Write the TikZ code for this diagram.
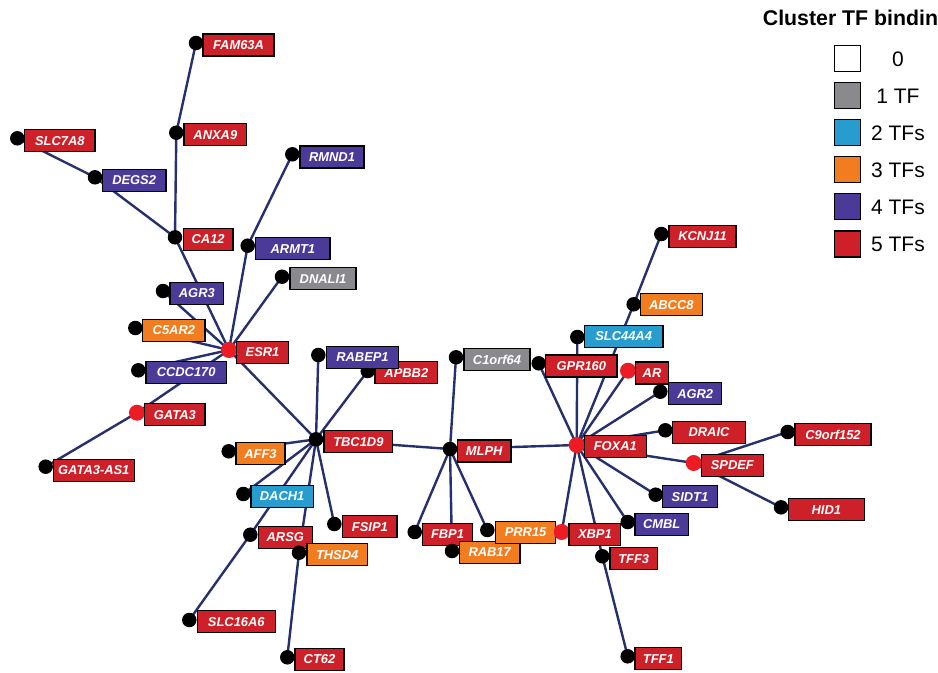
\documentclass[tikz,border=0pt]{standalone}
\usepackage{fontspec}
\setmainfont{Liberation Sans}
\pgfdeclarelayer{back}
\pgfdeclarelayer{bg}
\pgfsetlayers{back,bg,main}
\definecolor{cred}{RGB}{205,32,41}
\definecolor{cpurple}{RGB}{75,58,152}
\definecolor{corange}{RGB}{242,125,32}
\definecolor{cblue}{RGB}{38,157,206}
\definecolor{cgrey}{RGB}{137,137,142}
\definecolor{cdotred}{RGB}{237,28,36}
\definecolor{cedge}{RGB}{38,48,110}
\tikzset{
 dotb/.style={circle,fill=black,inner sep=0,minimum size=14.5bp},
 dotr/.style={circle,fill=cdotred,inner sep=0,minimum size=16bp},
 genebox/.style={draw=black,line width=1.3bp,text=white,inner sep=0,minimum height=22bp,
   font=\fontsize{12.9bp}{14bp}\selectfont\bfseries\itshape},
 edge/.style={draw=cedge,line width=2.4bp},
 legbox/.style={draw=black,line width=1.4bp,minimum width=26bp,minimum height=26bp,inner sep=0},
 legtext/.style={font=\fontsize{21bp}{24bp}\selectfont,inner sep=0,anchor=base},
}
\newcommand\gn[9]{%
 \node[#5] (d#1) at (#3,#4) {};
 \node[genebox,fill=#9,minimum width={(#7-#6)*1bp}] (b#1) at ({(#6+#7)/2},#8) {#2};
}
\begin{document}
\begin{tikzpicture}[x=1bp,y=-1bp]
\useasboundingbox (0,0) rectangle (938,673);
\begin{pgfonlayer}{back}
\fill[white] (0,0) rectangle (938,673);
\end{pgfonlayer}
% genes: id, label, dot x, dot y, dot style, box x1, box x2, box yc, colour
\gn{FAMsixA}{FAM63A}{196}{43}{dotb}{203}{274}{45}{cred}
\gn{ANXA9}{ANXA9}{176.3}{132.7}{dotb}{184}{246.7}{134.7}{cred}
\gn{SLC7A8}{SLC7A8}{17.3}{138.3}{dotb}{24.7}{95}{140.7}{cred}
\gn{DEGS2}{DEGS2}{95}{177.3}{dotb}{102.3}{166}{180.2}{cpurple}
\gn{RMND1}{RMND1}{292.3}{154.3}{dotb}{300}{364}{157}{cpurple}
\gn{CA12}{CA12}{175}{237.3}{dotb}{183.3}{233}{239.5}{cred}
\gn{ARMT1}{ARMT1}{247.7}{245.7}{dotb}{255.7}{330}{248.7}{cpurple}
\gn{DNALI1}{DNALI1}{282}{276.7}{dotb}{290}{356}{278.8}{cgrey}
\gn{AGR3}{AGR3}{163}{291}{dotb}{170}{223.7}{293.2}{cpurple}
\gn{C5AR2}{C5AR2}{135.3}{328}{dotb}{142.7}{205}{330.3}{corange}
\gn{ESR1}{ESR1}{229}{350}{dotr}{236.7}{288.3}{352.3}{cred}
\gn{CCDC170}{CCDC170}{138.3}{370.3}{dotb}{146}{226.3}{372.3}{cpurple}
\gn{GATA3}{GATA3}{137}{412.7}{dotr}{144.7}{205}{414.7}{cred}
\gn{GATAAS}{GATA3-AS1}{45.7}{466.7}{dotb}{53.3}{134.3}{470.4}{cred}
\gn{AFF3}{AFF3}{228.7}{451.3}{dotb}{236}{285}{453.8}{corange}
\gn{TBC1D9}{TBC1D9}{316}{439.3}{dotb}{324}{392.7}{441.7}{cred}
\gn{APBB2}{APBB2}{367.7}{371}{dotb}{375}{437.7}{372.5}{cred}
\gn{RABEP1}{RABEP1}{318.3}{355}{dotb}{326.7}{398.3}{357.5}{cpurple}
\gn{C1orf64}{C1orf64}{456}{357.3}{dotb}{464}{530}{359.8}{cgrey}
\gn{MLPH}{MLPH}{450}{449}{dotb}{457.3}{511}{451}{cred}
\gn{DACH1}{DACH1}{243.3}{494}{dotb}{251}{313.3}{496.2}{cblue}
\gn{FSIP1}{FSIP1}{334.3}{524}{dotb}{342.7}{397}{526.7}{cred}
\gn{ARSG}{ARSG}{250.3}{534.7}{dotb}{258.3}{312.3}{537.5}{cred}
\gn{THSD4}{THSD4}{299}{552.7}{dotb}{307}{367.3}{554.8}{corange}
\gn{SLC16A6}{SLC16A6}{189.3}{620}{dotb}{197.3}{275.3}{621.8}{cred}
\gn{CT62}{CT62}{287.3}{657.3}{dotb}{295}{344}{659.2}{cred}
\gn{FBP1}{FBP1}{414.7}{532}{dotb}{422.3}{472.7}{534.3}{cred}
\gn{RAB17}{RAB17}{452}{551}{dotb}{459.3}{520}{552.5}{corange}
\gn{PRR15}{PRR15}{487.3}{530}{dotb}{495.5}{555.7}{532.2}{corange}
\gn{XBP1}{XBP1}{561.7}{532}{dotr}{569}{620.7}{534.3}{cred}
\gn{KCNJ11}{KCNJ11}{661.3}{234}{dotb}{669}{736}{236.3}{cred}
\gn{ABCC8}{ABCC8}{633.7}{304.3}{dotb}{640.3}{702.3}{304.7}{corange}
\gn{SLC44A4}{SLC44A4}{577.3}{337}{dotb}{584.3}{663}{336.5}{cblue}
\gn{GPR160}{GPR160}{538.7}{363.3}{dotb}{545.7}{617}{366}{cred}
\gn{AR}{AR}{628}{370.7}{dotr}{635.7}{668.3}{373}{cred}
\gn{AGR2}{AGR2}{660.3}{391.7}{dotb}{668.7}{721.7}{393.7}{cpurple}
\gn{DRAIC}{DRAIC}{665.3}{430.3}{dotb}{672.3}{745.7}{432.5}{cred}
\gn{C9orf152}{C9orf152}{787.7}{432}{dotb}{795}{871}{434.8}{cred}
\gn{FOXA1}{FOXA1}{576.7}{445}{dotr}{584.3}{646.3}{446.3}{cred}
\gn{SPDEF}{SPDEF}{693.7}{463}{dotr}{701.3}{763.3}{465.2}{cred}
\gn{SIDT1}{SIDT1}{655.7}{494.7}{dotb}{662.7}{717.3}{496.8}{cpurple}
\gn{HID1}{HID1}{781}{507.3}{dotb}{788.3}{864.3}{509.7}{cred}
\gn{CMBL}{CMBL}{627.7}{522}{dotb}{635}{688.3}{524.2}{cpurple}
\gn{TFF3}{TFF3}{602.3}{556.3}{dotb}{610}{657.3}{558.8}{cred}
\gn{TFF1}{TFF1}{627.7}{656.3}{dotb}{635}{681.7}{658.8}{cred}
% edges
\begin{pgfonlayer}{bg}
\foreach \a/\b in {FAMsixA/ANXA9, ANXA9/CA12, SLC7A8/DEGS2, DEGS2/CA12, CA12/ESR1,
  RMND1/ARMT1, ARMT1/ESR1, DNALI1/ESR1, AGR3/ESR1, C5AR2/ESR1, CCDC170/ESR1,
  GATA3/ESR1, GATAAS/GATA3, ESR1/TBC1D9, TBC1D9/RABEP1, TBC1D9/APBB2, TBC1D9/AFF3,
  TBC1D9/DACH1, TBC1D9/ARSG, TBC1D9/THSD4, TBC1D9/FSIP1, TBC1D9/MLPH, ARSG/SLC16A6,
  THSD4/CT62, MLPH/C1orf64, MLPH/FBP1, MLPH/RAB17, MLPH/PRR15, MLPH/FOXA1,
  FOXA1/GPR160, FOXA1/SLC44A4, FOXA1/ABCC8, ABCC8/KCNJ11, FOXA1/AR, FOXA1/AGR2,
  FOXA1/DRAIC, FOXA1/SPDEF, FOXA1/SIDT1, FOXA1/CMBL, FOXA1/XBP1, FOXA1/TFF3,
  TFF3/TFF1, SPDEF/C9orf152, SPDEF/HID1}
  \draw[edge] (d\a.center) -- (d\b.center);
\end{pgfonlayer}
% legend
\node[anchor=base west,inner sep=0,font=\fontsize{21.3bp}{24bp}\selectfont\bfseries] (ltitle) at (762.7,26) {Cluster TF bindin};
\foreach \i/\c/\t/\y in {0/white/0/58.7, 1/cgrey/1 TF/95.8, 2/cblue/2 TFs/132.8,
  3/corange/3 TFs/169.5, 4/cpurple/4 TFs/206.7, 5/cred/5 TFs/243.8} {
  \node[legbox,fill=\c] (lb\i) at (847.3,\y) {};
  \node[legtext] (lt\i) at (898,\y+7.6) {\t};
}
\end{tikzpicture}
\end{document}
